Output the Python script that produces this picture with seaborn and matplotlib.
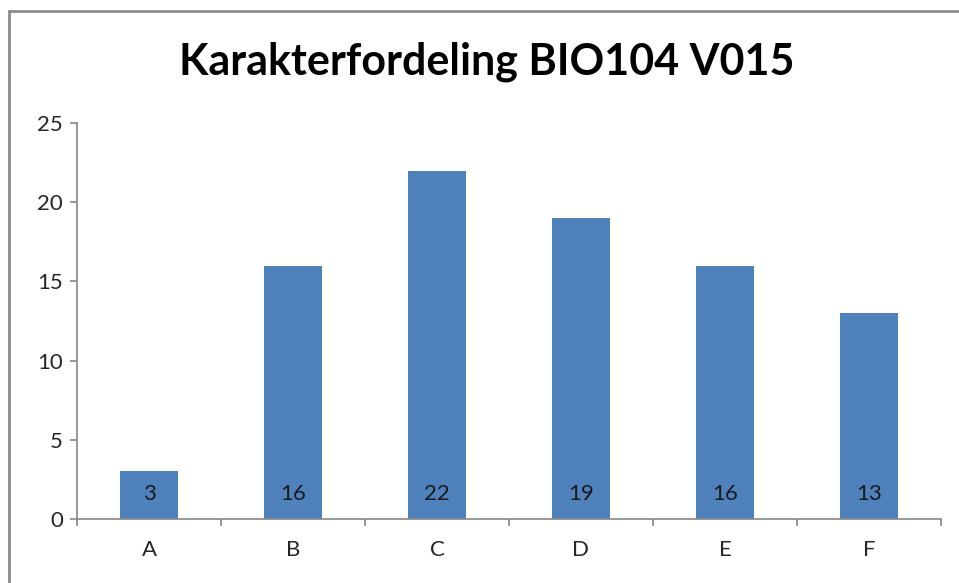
import matplotlib
matplotlib.use("Agg")
import matplotlib.pyplot as plt
import matplotlib.patches as mpatches
import pandas as pd
import seaborn as sns

grades = ["A", "B", "C", "D", "E", "F"]
counts = [3, 16, 22, 19, 16, 13]
title = "Karakterfordeling BIO104 V015"

sns.set_style("white")
plt.rcParams["font.family"] = ["Lato", "DejaVu Sans"]

df = pd.DataFrame({"grade": grades, "count": counts})

fig = plt.figure(figsize=(9.59, 5.83), dpi=100)
ax = fig.add_axes([77 / 959, 1 - 519 / 583, 864 / 959, 396 / 583])

sns.barplot(data=df, x="grade", y="count", color="#4F81BD", saturation=1,
            width=0.4, ax=ax, edgecolor="none")

# value labels near the bottom of each bar
for i, v in enumerate(counts):
    ax.text(i, 1.6, str(v), ha="center", va="center", fontsize=16, color="#1a1a1a")

ax.set_xlim(-0.5, len(grades) - 0.5)
ax.set_ylim(0, 25)
ax.set_yticks(range(0, 26, 5))
ax.set_xlabel("")
ax.set_ylabel("")

# tick marks at category boundaries like Excel
ax.set_xticks([i - 0.5 for i in range(len(grades) + 1)], minor=False)
ax.set_xticklabels([])
ax.set_xticks(range(len(grades)), minor=True)
ax.set_xticklabels(grades, minor=True)
ax.tick_params(axis="x", which="major", bottom=True, length=5, width=1.2,
               color="#868686", direction="out")
ax.tick_params(axis="x", which="minor", bottom=True, length=0, pad=15,
               labelsize=16, labelcolor="#262626")
ax.tick_params(axis="y", left=True, length=5, width=1.2, color="#868686", direction="out",
               labelsize=16, labelcolor="#262626", pad=5)

for side in ["top", "right"]:
    ax.spines[side].set_visible(False)
for side in ["left", "bottom"]:
    ax.spines[side].set_color("#868686")
    ax.spines[side].set_linewidth(1.2)

fig.text(487 / 959, 1 - 62 / 583, title, ha="center", va="center",
         fontsize=31, fontweight="bold", color="black")

# chart border
fig.patches.append(mpatches.Rectangle((9 / 959, -0.1), 1.2, 1 - 11 / 583 + 0.1,
                                      transform=fig.transFigure, fill=False,
                                      edgecolor="#8c8c8c", linewidth=2))

fig.savefig("out.png", dpi=100)
